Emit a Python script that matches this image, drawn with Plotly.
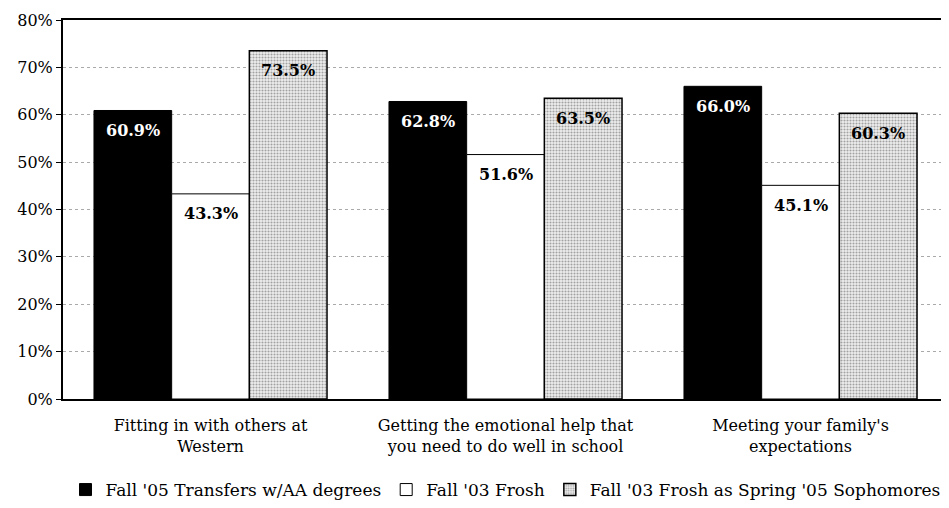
import plotly.graph_objects as go

categories = ["Fitting in with others at<br>Western",
              "Getting the emotional help that<br>you need to do well in school",
              "Meeting your family's<br>expectations"]
series_names = ["Fall '05 Transfers w/AA degrees", "Fall '03 Frosh",
                "Fall '03 Frosh as Spring '05 Sophomores"]
transfers = [60.9, 62.8, 66.0]
frosh = [43.3, 51.6, 45.1]
sophomores = [73.5, 63.5, 60.3]
y_ticks = [0, 10, 20, 30, 40, 50, 60, 70, 80]

FONT = "DejaVu Serif"
BARGAP = 0.21
series = [transfers, frosh, sophomores]
label_colors = ["white", "black", "black"]

fig = go.Figure()
fig.add_bar(name=series_names[0], x=categories, y=transfers,
            marker=dict(color="black", line=dict(color="black", width=1)))
fig.add_bar(name=series_names[1], x=categories, y=frosh,
            marker=dict(color="white", line=dict(color="black", width=1)))
fig.add_bar(name=series_names[2], x=categories, y=sophomores,
            marker=dict(color="#dddddd", line=dict(color="black", width=1.5),
                        pattern=dict(shape=".", fgcolor="#555555", bgcolor="#eeeeee",
                                     size=3, solidity=0.4)))

# value labels, placed in data coordinates at each bar's centre, just below its top
bar_w = (1 - BARGAP) / len(series)
annotations = []
for si, vals in enumerate(series):
    off = (si - (len(series) - 1) / 2) * bar_w
    for ci, v in enumerate(vals):
        annotations.append(dict(x=ci + off, y=v, xref="x", yref="y",
                                text=f"<b>{v:.1f}%</b>", showarrow=False,
                                yanchor="middle", yshift=-20,
                                font=dict(family=FONT, size=16, color=label_colors[si])))

fig.update_layout(
    width=941, height=500,
    margin=dict(l=55, r=1, t=12, b=109, autoexpand=False),
    paper_bgcolor="white", plot_bgcolor="white",
    barmode="group", bargap=BARGAP, bargroupgap=0,
    font=dict(family=FONT, size=16, color="black"),
    annotations=annotations,
    legend=dict(orientation="h", x=0.5, xanchor="center",
                yref="container", y=0.036, yanchor="middle",
                font=dict(family=FONT, size=17), itemwidth=30,
                traceorder="normal"),
)
fig.update_yaxes(range=[0, 80], tickvals=y_ticks,
                 ticktext=[f"{v}%" for v in y_ticks],
                 showgrid=True, gridcolor="#aaaaaa", griddash="dot", gridwidth=1,
                 showline=True, linecolor="black", linewidth=2, mirror=True,
                 ticks="outside", ticklen=5, tickcolor="black",
                 tickfont=dict(family=FONT, size=16), zeroline=False)
fig.update_xaxes(showline=True, linecolor="black", linewidth=2, mirror=True,
                 ticks="", ticklabelstandoff=11,
                 tickfont=dict(family=FONT, size=16))

fig.write_html("out.html")
